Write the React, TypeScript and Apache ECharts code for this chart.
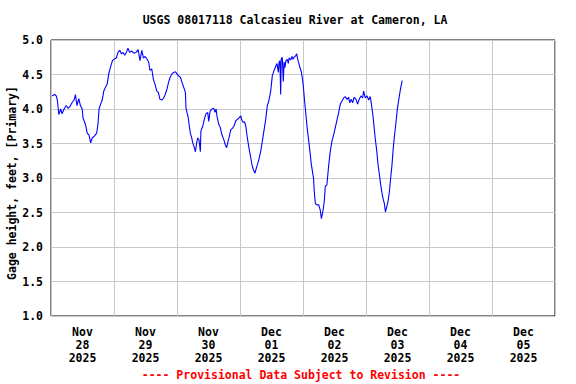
import React, { useEffect, useRef } from "react";
import * as echarts from "echarts";

// hours since 2025-11-28 00:00
const hours: number[] = [
  0.4, 1.4, 2.0, 2.4, 3.0, 3.7, 4.2, 5.0, 5.8, 6.5, 7.1, 8.0, 8.8, 9.3, 9.9, 10.6, 11.2, 11.9, 12.2, 13.1,
  13.8, 14.5, 15.1, 15.7, 16.6, 17.4, 17.9, 18.3, 18.9, 19.5, 20.1, 20.7, 21.4, 22.0, 22.7, 23.4, 24.3, 24.9, 25.5, 26.2,
  26.8, 27.4, 28.1, 28.7, 29.3, 30.0, 30.6, 31.6, 32.4, 33.2, 33.9, 34.6, 35.2, 35.9, 36.6, 37.2, 37.7, 38.4, 39.0, 39.6,
  40.3, 40.9, 41.5, 42.3, 42.9, 43.5, 44.2, 44.8, 45.4, 46.1, 46.7, 47.4, 48.0, 48.6, 49.3, 49.9, 50.6, 51.2, 51.4, 51.8,
  52.3, 52.7, 53.1, 53.6, 54.0, 54.6, 55.0, 55.5, 55.9, 56.4, 56.9, 57.1, 57.8, 58.4, 59.0, 59.7, 60.1, 60.6, 61.3, 62.0,
  62.5, 62.9, 63.2, 63.9, 64.5, 65.1, 65.8, 66.4, 66.9, 67.3, 67.8, 68.5, 69.1, 69.7, 70.4, 71.0, 71.6, 72.3, 72.7, 73.1,
  73.8, 74.2, 74.8, 75.4, 76.1, 76.7, 77.3, 77.7, 78.2, 78.6, 79.2, 79.9, 80.5, 81.1, 81.8, 82.4, 83.0, 83.7, 84.3, 85.0,
  85.6, 86.1, 86.6, 86.9, 87.2, 87.5, 87.7, 88.1, 88.5, 88.8, 89.1, 89.5, 90.0, 90.4, 90.7, 91.3, 91.8, 92.2, 92.6, 93.2,
  93.6, 94.1, 94.7, 95.4, 95.7,
  96.1, 96.6, 97.1, 97.6, 98.2, 98.7, 99.2, 99.7, 100.0, 100.3, 100.7, 101.3, 102.0, 102.6, 103.0, 103.5, 104.1, 104.5, 105.1, 105.8,
  106.4, 107.0, 107.7, 108.3, 109.0, 109.6, 110.2, 110.9, 111.5, 112.1, 112.8, 113.4, 113.8, 114.4, 114.9, 115.5, 116.2, 116.8, 117.4, 118.1,
  118.7, 119.1, 119.7, 120.4, 121.0, 121.6, 122.0, 122.6, 123.0, 123.5, 124.1, 124.6, 125.1, 125.6, 126.1, 126.5, 127.0, 127.4, 127.9, 128.4,
  128.9, 129.4, 129.9, 130.4, 130.9, 131.4, 131.9, 132.5, 133.0, 133.5, 133.8,
];

// gage height, feet
const gageHeight: number[] = [
  4.19, 4.21, 4.19, 4.13, 3.92, 4.0, 3.93, 4.0, 4.05, 4.01, 4.03, 4.09, 4.13, 4.21, 4.05, 4.15, 4.05, 4.0, 3.87, 3.78,
  3.65, 3.62, 3.51, 3.58, 3.61, 3.65, 3.78, 4.0, 4.07, 4.13, 4.26, 4.31, 4.36, 4.51, 4.61, 4.7, 4.73, 4.74, 4.82, 4.85,
  4.8, 4.82, 4.78, 4.82, 4.88, 4.82, 4.84, 4.81, 4.82, 4.86, 4.7, 4.85, 4.74, 4.76, 4.72, 4.68, 4.56, 4.58, 4.43, 4.36,
  4.26, 4.24, 4.14, 4.13, 4.16, 4.21, 4.29, 4.39, 4.46, 4.51, 4.53, 4.54, 4.51, 4.48, 4.46, 4.39, 4.31, 4.24, 4.02, 3.95,
  3.87, 3.75, 3.65, 3.58, 3.51, 3.44, 3.38, 3.51, 3.58, 3.55, 3.38, 3.68, 3.75, 3.85, 3.93, 3.95, 3.82, 3.97, 4.0, 4.01,
  3.95, 4.0, 3.9, 3.78, 3.73, 3.63, 3.56, 3.48, 3.44, 3.51, 3.58, 3.7, 3.72, 3.75, 3.83, 3.85, 3.87, 3.9, 3.84, 3.81,
  3.81, 3.75, 3.58, 3.44, 3.29, 3.17, 3.1, 3.07, 3.14, 3.19, 3.27, 3.39, 3.53, 3.68, 3.85, 4.05, 4.12, 4.26, 4.48, 4.56,
  4.62, 4.66, 4.53, 4.68, 4.7, 4.21, 4.72, 4.75, 4.4, 4.68, 4.6, 4.7, 4.72, 4.66, 4.74, 4.71, 4.76, 4.72, 4.75, 4.77,
  4.8, 4.7, 4.62, 4.53, 4.46,
  4.34, 4.12, 3.92, 3.72, 3.53, 3.36, 3.19, 3.07, 3.0, 2.8, 2.63, 2.61, 2.61, 2.53, 2.41, 2.5, 2.66, 2.88, 2.9, 3.19,
  3.39, 3.53, 3.63, 3.73, 3.85, 3.95, 4.07, 4.12, 4.16, 4.18, 4.14, 4.17, 4.09, 4.14, 4.09, 4.17, 4.14, 4.07, 4.14, 4.19,
  4.16, 4.26, 4.16, 4.19, 4.13, 4.18, 4.09, 3.92, 3.77, 3.58, 3.39, 3.19, 3.05, 2.9, 2.78, 2.7, 2.63, 2.51, 2.58, 2.66,
  2.8, 3.0, 3.19, 3.44, 3.63, 3.8, 3.99, 4.14, 4.26, 4.36, 4.41,
];

const tickMonths: string[] = ["Nov", "Nov", "Nov", "Dec", "Dec", "Dec", "Dec", "Dec"];
const tickDays: string[] = ["28", "29", "30", "01", "02", "03", "04", "05"];
const tickYears: string[] = ["2025", "2025", "2025", "2025", "2025", "2025", "2025", "2025"];

const titleText = "USGS 08017118 Calcasieu River at Cameron, LA";
const yName = "Gage height, feet, [Primary]";
const footerText = "---- Provisional Data Subject to Revision ----";

const FONT = '"DejaVu Sans Mono", "Liberation Mono", monospace';

export default function App() {
  const ref = useRef<HTMLDivElement>(null);
  useEffect(() => {
    if (!ref.current) return;
    const chart = echarts.init(ref.current, null, { renderer: "svg" });
    const data = hours.map((h, i) => [h, gageHeight[i]]);
    const dayLabels = tickMonths.map((m, i) => `${m}\n${tickDays[i]}\n${tickYears[i]}`);
    chart.setOption({
      animation: false,
      backgroundColor: "#fff",
      grid: {
        left: 51,
        right: 21,
        top: 40,
        bottom: 68,
        show: true,
        borderColor: "#000",
        borderWidth: 1,
        backgroundColor: "transparent",
      },
      xAxis: [
        {
          type: "value",
          min: 0,
          max: 192,
          interval: 24,
          axisLabel: { show: false },
          axisTick: { show: false },
          axisLine: { show: false },
          splitLine: { show: true, lineStyle: { color: "#c8c8c8", width: 1 } },
        },
        {
          type: "category",
          data: dayLabels,
          position: "bottom",
          boundaryGap: true,
          axisLine: { show: false },
          axisTick: { show: false },
          splitLine: { show: false },
          axisLabel: {
            interval: 0,
            margin: 9,
            color: "#000",
            fontFamily: FONT,
            fontWeight: "bold",
            fontSize: 11.5,
            lineHeight: 13,
          },
        },
      ],
      yAxis: {
        type: "value",
        min: 1,
        max: 5,
        interval: 0.5,
        axisLine: { show: false },
        axisTick: { show: false },
        splitLine: { show: true, lineStyle: { color: "#c8c8c8", width: 1 } },
        axisLabel: {
          margin: 8,
          color: "#000",
          fontFamily: FONT,
          fontWeight: "bold",
          fontSize: 11.5,
          formatter: (v: number) => v.toFixed(1),
        },
      },
      series: [
        {
          type: "line",
          xAxisIndex: 0,
          data,
          showSymbol: false,
          symbol: "none",
          lineStyle: { color: "#0000ff", width: 1.1 },
          z: 3,
        },
      ],
      graphic: [
        {
          type: "text",
          x: 295,
          y: 20,
          style: {
            text: titleText,
            fill: "#000",
            font: `bold 11.5px ${FONT}`,
            textAlign: "center",
            textVerticalAlign: "middle",
          },
        },
        {
          type: "text",
          x: 12,
          y: 183,
          rotation: Math.PI / 2,
          style: {
            text: yName,
            fill: "#000",
            font: `bold 11.5px ${FONT}`,
            textAlign: "center",
            textVerticalAlign: "middle",
          },
        },
        {
          type: "text",
          x: 301,
          y: 375,
          style: {
            text: footerText,
            fill: "#ff0000",
            font: `bold 11.5px ${FONT}`,
            textAlign: "center",
            textVerticalAlign: "middle",
          },
        },
      ],
    });
    return () => chart.dispose();
  }, []);
  return <div ref={ref} style={{ width: 576, height: 384, position: "absolute", left: 0, top: 0 }} />;
}
